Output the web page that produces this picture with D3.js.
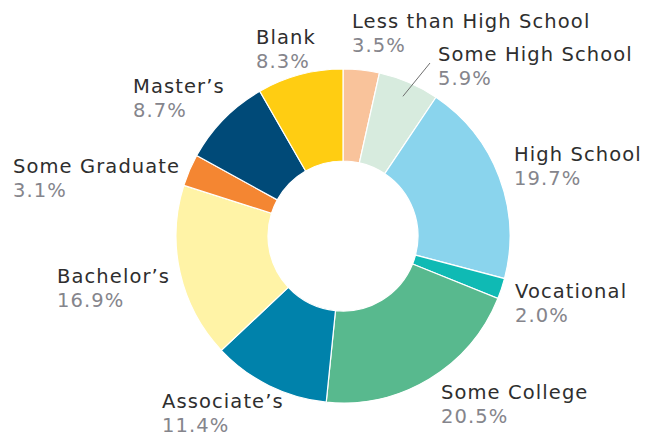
<!DOCTYPE html>
<html>
<head>
<meta charset="utf-8">
<script src="https://cdn.jsdelivr.net/npm/d3@7/dist/d3.min.js"></script>
<style>
  html, body { margin: 0; padding: 0; background: #ffffff; }
  svg { display: block; }
  .name { fill: #2e2e2e; }
  .pct { fill: #85858c; }
  text { font-family: "DejaVu Sans", sans-serif; font-size: 19.5px; letter-spacing: 1.1px; }
</style>
</head>
<body>
<svg id="chart" width="653" height="437"></svg>
<script>
// Education level shares (percent), clockwise from 12 o'clock
const categories = ["Less than High School", "Some High School", "High School", "Vocational",
  "Some College", "Associate\u2019s", "Bachelor\u2019s", "Some Graduate", "Master\u2019s", "Blank"];
const shares = [3.5, 5.9, 19.7, 2.0, 20.5, 11.4, 16.9, 3.1, 8.7, 8.3];
const colors = ["#f9c39b", "#d7ebde", "#8ad4ed", "#0fbab4", "#58b98e",
  "#0082ab", "#fff3a6", "#f48632", "#004a78", "#ffcd12"];

const svg = d3.select("#chart");
const cx = 343, cy = 236, outerR = 167, innerR = 75;

const pie = d3.pie().value(d => d.value).sort(null);
const arc = d3.arc().innerRadius(innerR).outerRadius(outerR);

const data = categories.map((c, i) => ({ name: c, value: shares[i], color: colors[i] }));
const arcs = pie(data);

const g = svg.append("g").attr("transform", `translate(${cx},${cy})`);
g.selectAll("path")
  .data(arcs)
  .join("path")
  .attr("d", arc)
  .attr("fill", d => d.data.color)
  .attr("stroke", "#ffffff")
  .attr("stroke-width", 1.2);

// Label anchor points (left edge, name baseline)
const labelPos = [
  [352, 28], [438, 61], [514, 161], [515, 298], [441, 399],
  [162, 408], [57, 283], [13, 173], [133, 93], [256, 44]
];

const labels = svg.append("g");
data.forEach((d, i) => {
  const [x, y] = labelPos[i];
  labels.append("text").attr("class", "name").attr("x", x).attr("y", y).text(d.name);
  labels.append("text").attr("class", "pct").attr("x", x).attr("y", y + 24)
    .text(d3.format(".1f")(d.value) + "%");
});

// Leader line for the narrow "Some High School" slice
const shs = arcs[1];
const mid = (shs.startAngle + shs.endAngle) / 2;
const rIn = 152;
svg.append("line")
  .attr("x1", cx + rIn * Math.sin(mid))
  .attr("y1", cy - rIn * Math.cos(mid))
  .attr("x2", 430).attr("y2", 63)
  .attr("stroke", "#6f6f6f").attr("stroke-width", 1);
</script>
</body>
</html>
